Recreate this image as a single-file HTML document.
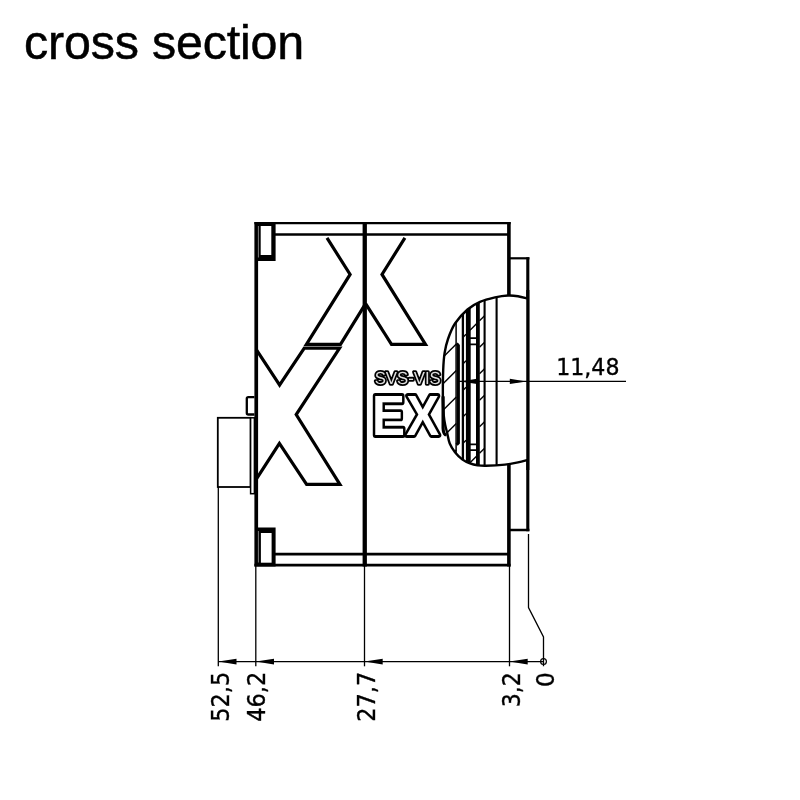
<!DOCTYPE html>
<html lang="en"><head><meta charset="utf-8"><title>cross section</title>
<style>
html,body{margin:0;padding:0;background:#fff;}
body{width:800px;height:800px;overflow:hidden;position:relative;font-family:"Liberation Sans",Arial,sans-serif;}
h1{position:absolute;left:24.1px;top:14.2px;-webkit-text-stroke:0.5px #000;margin:0;font-weight:normal;font-size:48.4px;line-height:56px;color:#000;white-space:nowrap;letter-spacing:-0.2px;}
svg{position:absolute;left:0;top:0;will-change:transform;}
.dim{font-family:"DejaVu Sans","Liberation Sans",sans-serif;font-size:24.2px;fill:#000;stroke:#000;stroke-width:0.35px;}
.logo text{font-family:"Liberation Sans",Arial,sans-serif;font-weight:bold;fill:#fff;stroke:#000;stroke-linejoin:round;paint-order:stroke;text-rendering:geometricPrecision;}
</style></head><body>
<h1>cross section</h1>
<svg width="800" height="800" viewBox="0 0 800 800">
<defs><clipPath id="lens"><path d="M527.80,298.60 C526.17,298.20 521.30,296.72 518.00,296.20 C514.70,295.68 511.83,295.30 508.00,295.50 C504.17,295.70 499.67,296.33 495.00,297.40 C490.33,298.47 484.58,299.88 480.00,301.90 C475.42,303.92 471.67,305.90 467.50,309.50 C463.33,313.10 458.25,318.58 455.00,323.50 C451.75,328.42 449.73,334.08 448.00,339.00 C446.27,343.92 445.40,347.83 444.60,353.00 C443.80,358.17 443.48,362.17 443.20,370.00 C442.92,377.83 442.82,392.50 442.90,400.00 C442.98,407.50 443.32,410.83 443.70,415.00 C444.08,419.17 444.63,422.08 445.20,425.00 C445.77,427.92 446.34,429.42 447.10,432.50 C447.86,435.58 448.43,440.22 449.75,443.50 C451.07,446.78 452.88,449.52 455.00,452.20 C457.12,454.88 460.00,457.73 462.50,459.60 C465.00,461.47 467.50,462.45 470.00,463.40 C472.50,464.35 474.83,464.90 477.50,465.30 C480.17,465.70 481.42,465.92 486.00,465.80 C490.58,465.68 499.67,465.17 505.00,464.60 C510.33,464.03 514.20,463.17 518.00,462.40 C521.80,461.63 526.17,460.40 527.80,460.00 Z"/></clipPath></defs>
<g stroke="#000" fill="none" stroke-linecap="butt" stroke-linejoin="miter" stroke-miterlimit="10">
<g stroke-width="1.1">
<line x1="218.3" y1="487" x2="218.3" y2="666.3" stroke-width="1.3" />
<line x1="255.8" y1="566" x2="255.8" y2="666.3" stroke-width="1.3" />
<line x1="364.5" y1="566" x2="364.5" y2="666.3" stroke-width="1.3" />
<line x1="509.5" y1="566" x2="509.5" y2="666.3" stroke-width="1.3" />
<polyline points="528.5,534 528.5,607.5 543.5,637 543.5,666.3" stroke-width="1.3" fill="none" />
<line x1="218.3" y1="661.6" x2="543.5" y2="661.6" stroke-width="1.35" />
</g>
<polygon points="218.3,661.6 236.5,658.7 236.5,664.5" fill="#000" stroke="none"/>
<polygon points="255.8,661.6 274.0,658.7 274.0,664.5" fill="#000" stroke="none"/>
<polygon points="364.5,661.6 382.7,658.7 382.7,664.5" fill="#000" stroke="none"/>
<polygon points="509.5,661.6 527.7,658.7 527.7,664.5" fill="#000" stroke="none"/>
<circle cx="543.5" cy="661.6" r="2.9" stroke-width="1.2" fill="none"/>
<rect x="217.8" y="417.8" width="32.8" height="69.2" stroke-width="1.8" fill="#fff"/>
<rect x="250.6" y="417.8" width="3.8" height="75.9" stroke-width="1.5" fill="#fff"/>
<path d="M254.4,397.1 H248.3 Q246.8,397.1 246.8,398.6 V413 Q246.8,414.5 248.3,414.5 H254.4" stroke-width="2.3" fill="#fff"/>
<line x1="254.4" y1="223.1" x2="510.6" y2="223.1" stroke-width="2.3" />
<line x1="275" y1="234.5" x2="509" y2="234.5" stroke-width="2.6" />
<line x1="275" y1="554.2" x2="509" y2="554.2" stroke-width="2.7" />
<line x1="254.4" y1="565.2" x2="510.6" y2="565.2" stroke-width="2.7" />
<line x1="256.25" y1="222" x2="256.25" y2="566.5" stroke-width="3.7" />
<line x1="364.75" y1="222" x2="364.75" y2="566.5" stroke-width="4.3" />
<line x1="508.9" y1="222" x2="508.9" y2="566.5" stroke-width="3.6" />
<line x1="509" y1="258.3" x2="529.4" y2="258.3" stroke-width="2.2" />
<line x1="527.8" y1="257.2" x2="527.8" y2="531.2" stroke-width="3.1" />
<line x1="509" y1="530" x2="529.4" y2="530" stroke-width="2.5" />
<rect x="258" y="222" width="17.6" height="39" fill="#000" stroke="none"/>
<rect x="260.7" y="226" width="10.6" height="29" fill="#fff" stroke="none"/>
<line x1="258.4" y1="226" x2="258.4" y2="257.5" stroke-width="0.5" stroke="#fff"/>
<rect x="258" y="527.5" width="17.6" height="39" fill="#000" stroke="none"/>
<rect x="260.9" y="533" width="10.7" height="29.7" fill="#fff" stroke="none"/>
<line x1="258.4" y1="531" x2="258.4" y2="562.5" stroke-width="0.5" stroke="#fff"/>
<polyline points="327.0,237.8 350.1,274.4 306.4,344.3 340.5,344.3 365.6,303.6" stroke-width="3.2" fill="none" />
<polyline points="365.6,303.6 391.5,344.3 425.5,344.3 382.0,274.4 404.9,237.8" stroke-width="3.2" fill="none" />
<polyline points="256,349.2 279.6,385 304.3,348.1 339.6,348.1 296.2,414.6 339.9,484.4 306.6,484.4 279.4,443.4 256,479.6" stroke-width="3.2" fill="none" />
</g>
<g class="logo">
<text transform="translate(374.7,383.8) scale(0.957,1)" font-size="17.5" stroke-width="3.6" style="font-weight:normal;fill:#dedede">SVS-VIS</text>
<text transform="translate(371.9,435.2) scale(0.87,1)" x="0 39.62" font-size="56.8" stroke-width="5.8">EX</text>
</g>
<path d="M527.80,298.60 C526.17,298.20 521.30,296.72 518.00,296.20 C514.70,295.68 511.83,295.30 508.00,295.50 C504.17,295.70 499.67,296.33 495.00,297.40 C490.33,298.47 484.58,299.88 480.00,301.90 C475.42,303.92 471.67,305.90 467.50,309.50 C463.33,313.10 458.25,318.58 455.00,323.50 C451.75,328.42 449.73,334.08 448.00,339.00 C446.27,343.92 445.40,347.83 444.60,353.00 C443.80,358.17 443.48,362.17 443.20,370.00 C442.92,377.83 442.82,392.50 442.90,400.00 C442.98,407.50 443.32,410.83 443.70,415.00 C444.08,419.17 444.63,422.08 445.20,425.00 C445.77,427.92 446.34,429.42 447.10,432.50 C447.86,435.58 448.43,440.22 449.75,443.50 C451.07,446.78 452.88,449.52 455.00,452.20 C457.12,454.88 460.00,457.73 462.50,459.60 C465.00,461.47 467.50,462.45 470.00,463.40 C472.50,464.35 474.83,464.90 477.50,465.30 C480.17,465.70 481.42,465.92 486.00,465.80 C490.58,465.68 499.67,465.17 505.00,464.60 C510.33,464.03 514.20,463.17 518.00,462.40 C521.80,461.63 526.17,460.40 527.80,460.00 Z" fill="#fff" stroke="none"/>
<path d="M443.1,397 L443.1,428 Q443.3,433.5 445.2,434.6" fill="none" stroke="#000" stroke-width="3.2" stroke-linecap="round"/>
<g clip-path="url(#lens)" stroke="#000" fill="none">
<line x1="440" y1="280.8" x2="456.3" y2="264.5" stroke-width="1.4" />
<line x1="440" y1="307.3" x2="456.3" y2="291.0" stroke-width="1.4" />
<line x1="440" y1="333.8" x2="456.3" y2="317.5" stroke-width="1.4" />
<line x1="440" y1="360.3" x2="456.3" y2="344.0" stroke-width="1.4" />
<line x1="440" y1="386.8" x2="456.3" y2="370.5" stroke-width="1.4" />
<line x1="440" y1="413.3" x2="456.3" y2="397.0" stroke-width="1.4" />
<line x1="440" y1="439.8" x2="456.3" y2="423.5" stroke-width="1.4" />
<line x1="440" y1="466.3" x2="456.3" y2="450.0" stroke-width="1.4" />
<line x1="440" y1="492.8" x2="456.3" y2="476.5" stroke-width="1.4" />
<line x1="440" y1="519.3" x2="456.3" y2="502.99999999999994" stroke-width="1.4" />
<line x1="462.9" y1="257.90000000000003" x2="466" y2="254.8" stroke-width="1.4" />
<line x1="462.9" y1="284.40000000000003" x2="466" y2="281.3" stroke-width="1.4" />
<line x1="462.9" y1="310.90000000000003" x2="466" y2="307.8" stroke-width="1.4" />
<line x1="462.9" y1="337.40000000000003" x2="466" y2="334.3" stroke-width="1.4" />
<line x1="462.9" y1="363.90000000000003" x2="466" y2="360.8" stroke-width="1.4" />
<line x1="462.9" y1="390.40000000000003" x2="466" y2="387.3" stroke-width="1.4" />
<line x1="462.9" y1="416.90000000000003" x2="466" y2="413.8" stroke-width="1.4" />
<line x1="462.9" y1="443.40000000000003" x2="466" y2="440.3" stroke-width="1.4" />
<line x1="462.9" y1="469.90000000000003" x2="466" y2="466.8" stroke-width="1.4" />
<line x1="462.9" y1="496.4" x2="466" y2="493.29999999999995" stroke-width="1.4" />
<line x1="470" y1="250.8" x2="476.5" y2="244.3" stroke-width="1.4" />
<line x1="470" y1="277.3" x2="476.5" y2="270.8" stroke-width="1.4" />
<line x1="470" y1="303.8" x2="476.5" y2="297.3" stroke-width="1.4" />
<line x1="470" y1="330.3" x2="476.5" y2="323.8" stroke-width="1.4" />
<line x1="470" y1="462.8" x2="476.5" y2="456.3" stroke-width="1.4" />
<line x1="470" y1="489.29999999999995" x2="476.5" y2="482.79999999999995" stroke-width="1.4" />
<line x1="479.5" y1="241.3" x2="484.6" y2="236.2" stroke-width="1.4" />
<line x1="479.5" y1="267.8" x2="484.6" y2="262.7" stroke-width="1.4" />
<line x1="479.5" y1="294.3" x2="484.6" y2="289.2" stroke-width="1.4" />
<line x1="479.5" y1="320.8" x2="484.6" y2="315.7" stroke-width="1.4" />
<line x1="479.5" y1="347.3" x2="484.6" y2="342.2" stroke-width="1.4" />
<line x1="479.5" y1="373.8" x2="484.6" y2="368.7" stroke-width="1.4" />
<line x1="479.5" y1="400.3" x2="484.6" y2="395.2" stroke-width="1.4" />
<line x1="479.5" y1="426.8" x2="484.6" y2="421.7" stroke-width="1.4" />
<line x1="479.5" y1="453.3" x2="484.6" y2="448.2" stroke-width="1.4" />
<line x1="479.5" y1="479.79999999999995" x2="484.6" y2="474.69999999999993" stroke-width="1.4" />
<line x1="456.1" y1="290" x2="456.1" y2="470" stroke-width="1.5" />
<polyline points="456.6,343.5 458.4,345.5 458.4,442.8 456.6,444.8" stroke-width="3.0" fill="none" />
<line x1="462.9" y1="290" x2="462.9" y2="470" stroke-width="2.3" />
<line x1="468.3" y1="290" x2="468.3" y2="470" stroke-width="4.8" />
<line x1="477.9" y1="290" x2="477.9" y2="470" stroke-width="3.8" />
<line x1="484.6" y1="290" x2="484.6" y2="470" stroke-width="2.1" />
<line x1="496.6" y1="290" x2="496.6" y2="470" stroke-width="2.1" />
<line x1="470" y1="338.1" x2="477" y2="338.1" stroke-width="1.8" />
<line x1="470" y1="344.4" x2="477" y2="344.4" stroke-width="1.8" />
<line x1="470" y1="444.4" x2="477" y2="444.4" stroke-width="1.8" />
<line x1="470" y1="450.2" x2="477" y2="450.2" stroke-width="1.8" />
</g>
<path d="M527.80,298.60 C526.17,298.20 521.30,296.72 518.00,296.20 C514.70,295.68 511.83,295.30 508.00,295.50 C504.17,295.70 499.67,296.33 495.00,297.40 C490.33,298.47 484.58,299.88 480.00,301.90 C475.42,303.92 471.67,305.90 467.50,309.50 C463.33,313.10 458.25,318.58 455.00,323.50 C451.75,328.42 449.73,334.08 448.00,339.00 C446.27,343.92 445.40,347.83 444.60,353.00 C443.80,358.17 443.48,362.17 443.20,370.00 C442.92,377.83 442.82,392.50 442.90,400.00 C442.98,407.50 443.32,410.83 443.70,415.00 C444.08,419.17 444.63,422.08 445.20,425.00 C445.77,427.92 446.34,429.42 447.10,432.50 C447.86,435.58 448.43,440.22 449.75,443.50 C451.07,446.78 452.88,449.52 455.00,452.20 C457.12,454.88 460.00,457.73 462.50,459.60 C465.00,461.47 467.50,462.45 470.00,463.40 C472.50,464.35 474.83,464.90 477.50,465.30 C480.17,465.70 481.42,465.92 486.00,465.80 C490.58,465.68 499.67,465.17 505.00,464.60 C510.33,464.03 514.20,463.17 518.00,462.40 C521.80,461.63 526.17,460.40 527.80,460.00" fill="none" stroke="#000" stroke-width="2.4"/>
<line x1="527.8" y1="290" x2="527.8" y2="470" stroke-width="3.1" stroke="#000"/>
<line x1="457" y1="381.4" x2="626" y2="381.4" stroke-width="1.2" stroke="#000"/>
<polygon points="460,381.4 477,378.7 477,384.1" fill="#000"/>
<polygon points="526.4,381.4 509.8,378.7 509.8,384.1" fill="#000"/>
<text class="dim" x="556.2" y="374.6" style="font-size:22.9px" textLength="63.3" lengthAdjust="spacingAndGlyphs">11,48</text>
<text class="dim" transform="translate(228.5,721.8) rotate(-90)" textLength="50" lengthAdjust="spacingAndGlyphs">52,5</text>
<text class="dim" transform="translate(265.3,721.8) rotate(-90)" textLength="50" lengthAdjust="spacingAndGlyphs">46,2</text>
<text class="dim" transform="translate(375.1,721.8) rotate(-90)" textLength="50" lengthAdjust="spacingAndGlyphs">27,7</text>
<text class="dim" transform="translate(520.3,707.3) rotate(-90)" textLength="35" lengthAdjust="spacingAndGlyphs">3,2</text>
<text class="dim" transform="translate(553.8,687) rotate(-90)" textLength="14.9" lengthAdjust="spacingAndGlyphs">0</text>
</svg></body></html>
